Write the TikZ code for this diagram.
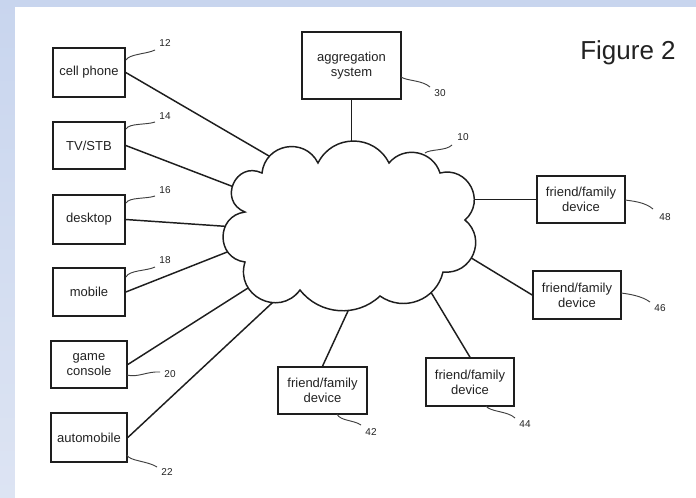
\documentclass[tikz,border=0pt]{standalone}
\usepackage{fontspec}
\setmainfont{Liberation Sans}
\definecolor{bgtop}{HTML}{C8D5EE}
\definecolor{bgbot}{HTML}{DDE4F3}
\definecolor{ink}{HTML}{1E1E1E}
\definecolor{txt}{HTML}{222222}
\tikzset{
  box/.style={draw=ink, line width=1.2pt, fill=white, inner sep=0pt, align=center,
    text=txt, font=\fontsize{9.75}{11.25}\selectfont},
  conn/.style={draw=ink, line width=1.1pt},
  cloudline/.style={draw=ink, line width=1.1pt, fill=white},
  leader/.style={draw=ink!85, line width=0.7pt},
  num/.style={inner sep=0pt, text=txt, font=\fontsize{7.5}{9}\selectfont}
}
\begin{document}
\begin{tikzpicture}[x=0.75pt,y=-0.75pt]
\useasboundingbox (0,0) rectangle (696,497);
% background
\shade[top color=bgtop, bottom color=bgbot] (-3,-3) rectangle (700,501);
\fill[white] (15,7) rectangle (700,501);

% boxes
\node[box, minimum width=54pt, minimum height=36.75pt] (cell) at (89,72.5) {cell phone};
\node[box, minimum width=54pt, minimum height=35.25pt] (tv) at (89,145.5) {TV/STB};
\node[box, minimum width=54pt, minimum height=36.75pt] (desk) at (89,219.5) {desktop};
\node[box, minimum width=54pt, minimum height=36pt] (mob) at (89,292) {mobile};
\node[box, minimum width=57pt, minimum height=35.25pt] (game) at (89,364.5) {game\\console};
\node[box, minimum width=57pt, minimum height=36.75pt] (auto) at (89,437.5) {automobile};
\node[box, minimum width=74.25pt, minimum height=50.25pt] (agg) at (351.5,65.5) {aggregation\\system};
\node[box, minimum width=66pt, minimum height=35.25pt] (f48) at (581,199.5) {friend/family\\device};
\node[box, minimum width=66pt, minimum height=36pt] (f46) at (577,295) {friend/family\\device};
\node[box, minimum width=66pt, minimum height=36pt] (f44) at (470,382) {friend/family\\device};
\node[box, minimum width=66.75pt, minimum height=35.25pt] (f42) at (322.5,390.5) {friend/family\\device};

\node[inner sep=0pt, text=txt, font=\fontsize{19.5}{22}\selectfont] (fig) at (628,53) {Figure 2};

% connector end points inside the cloud
\coordinate (k-cell) at (305,177);
\coordinate (k-tv) at (260,197);
\coordinate (k-desk) at (250,228);
\coordinate (k-mob) at (250,243);
\coordinate (k-game) at (270,274);
\coordinate (k-auto) at (301,276);
\coordinate (k-agg) at (351.5,160);
\coordinate (k-f48) at (455,199.5);
\coordinate (k-f46) at (445,242);
\coordinate (k-f44) at (420,274);
\coordinate (k-f42) at (360,285);

% connectors
\draw[conn] (cell.east) -- (k-cell);
\draw[conn] (tv.east) -- (k-tv);
\draw[conn] (desk.east) -- (k-desk);
\draw[conn] (mob.east) -- (k-mob);
\draw[conn] (game.east) -- (k-game);
\draw[conn] (auto.east) -- (k-auto);
\draw[conn] (agg.south) -- (k-agg);
\draw[conn] (f48.west) -- (k-f48);
\draw[conn] (f46.west) -- (k-f46);
\draw[conn] (f44.north) -- (k-f44);
\draw[conn] (f42.north) -- (k-f42);

% cloud (network 10), each puff a circular arc between two cusps
\path[cloudline] (262,173) .. controls (265.2,143.6) and (304.8,136.5) .. (318,163)
 .. controls (332.6,133.7) and (374.4,133.7) .. (389,163)
 .. controls (404.0,145.0) and (432.9,150.7) .. (440,173)
 .. controls (467.8,165.9) and (486.4,200.9) .. (465,220)
 .. controls (487.4,238.7) and (472.0,275.0) .. (443,272)
 .. controls (436.5,300.1) and (403.6,312.7) .. (380,296)
 .. controls (356.8,317.9) and (319.7,315.1) .. (300,290)
 .. controls (279.0,318.2) and (234.6,295.6) .. (245,262)
 .. controls (215.7,258.2) and (215.7,215.8) .. (245,212)
 .. controls (217.7,201.2) and (235.5,160.4) .. (262,173) -- cycle;

% reference numerals
\node[num] (n12) at (165,43.5) {12};
\node[num] (n14) at (165,116) {14};
\node[num] (n16) at (165,190) {16};
\node[num] (n18) at (165,260) {18};
\node[num] (n20) at (170,374) {20};
\node[num] (n22) at (167,472) {22};
\node[num] (n30) at (440,93) {30};
\node[num] (n10) at (463,137) {10};
\node[num] (n48) at (665,217) {48};
\node[num] (n46) at (660,308) {46};
\node[num] (n44) at (525,424) {44};
\node[num] (n42) at (371,432) {42};

% leader squiggles
\draw[leader] (126,60) .. controls (129,54) and (147,54) .. (155,50);
\draw[leader] (126,129) .. controls (129,123) and (147,125) .. (155,122);
\draw[leader] (126,203) .. controls (129,197) and (147,199) .. (155,196);
\draw[leader] (126,277) .. controls (129,270) and (147,271) .. (155,267);
\draw[leader] (127,375) .. controls (137,378) and (148,371) .. (160,372);
\draw[leader] (127,455) .. controls (129,461) and (148,461) .. (157,467);
\draw[leader] (401,77) .. controls (407,81) and (422,80) .. (430,87);
\draw[leader] (425,153) .. controls (430,149) and (446,151) .. (452,145);
\draw[leader] (625,200) .. controls (632,201) and (645,202) .. (653,209);
\draw[leader] (621,293) .. controls (629,294) and (642,296) .. (650,302);
\draw[leader] (486,406) .. controls (490,412) and (508,411) .. (515,418);
\draw[leader] (337,414) .. controls (340,421) and (354,420) .. (361,425);
\end{tikzpicture}
\end{document}
